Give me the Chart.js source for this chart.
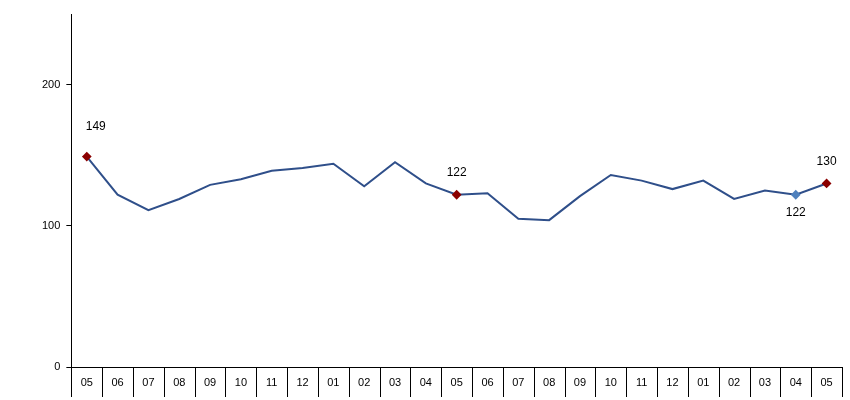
<!DOCTYPE html>
<html><head><script src="https://cdn.jsdelivr.net/npm/chart.js@4"></script>
<style>body{margin:0;background:#fff}#w{width:850px;height:400px}</style></head>
<body><div id="w"><canvas id="c"></canvas></div>
<script>
const categories=["05","06","07","08","09","10","11","12","01","02","03","04","05","06","07","08","09","10","11","12","01","02","03","04","05"];
const values=[149,122,111,119,129,133,139,141,144,128,145,130,122,123,105,104,121,136,132,126,132,119,125,122,130];
const yTicks=[0,100,200];
const labelled={0:"above",12:"above",23:"below",24:"above"};
const ptColor=values.map((v,i)=>i===23?"#4f81bd":"#8b0000");
const ptRadius=values.map((v,i)=>labelled[i]?3.5:0);
const labelPlugin={id:"lbl",afterDatasetsDraw(ch){const ctx=ch.ctx;const m=ch.getDatasetMeta(0);ctx.save();ctx.font="12px Arial";ctx.fillStyle="#000";ctx.textAlign="center";ctx.textBaseline="middle";
for(const k in labelled){const p=m.data[k];const i=+k;let y=labelled[k]==="above"?p.y-22:p.y+18;let x=p.x;if(i===0){x+=9;y-=8;}ctx.fillText(values[i],x,y);}
const xs=ch.scales.x,a=ch.chartArea;const step=xs.getPixelForValue(1)-xs.getPixelForValue(0);
ctx.strokeStyle="#000";ctx.lineWidth=1;ctx.font="11px Arial";
for(let i=0;i<=categories.length;i++){const x=Math.round(xs.getPixelForValue(i)-step/2)+0.5;ctx.beginPath();ctx.moveTo(x,a.bottom);ctx.lineTo(x,a.bottom+30);ctx.stroke();}
categories.forEach((c,i)=>ctx.fillText(c,xs.getPixelForValue(i),a.bottom+16));
ctx.restore();}};
new Chart(document.getElementById("c"),{type:"line",data:{labels:categories,datasets:[{data:values,borderColor:"#2f4f8a",borderWidth:2,tension:0,pointStyle:"rectRot",pointRadius:ptRadius,pointBackgroundColor:ptColor,pointBorderColor:ptColor}]},
options:{responsive:true,maintainAspectRatio:false,animation:false,layout:{padding:{top:14,right:8,left:36,bottom:25}},plugins:{legend:{display:false},tooltip:{enabled:false}},
scales:{x:{offset:true,grid:{display:false},border:{color:"#000"},ticks:{display:false}},
y:{min:0,max:250,afterBuildTicks(s){s.ticks=yTicks.map(v=>({value:v}));},grid:{drawOnChartArea:false,color:"#000",tickLength:5},border:{color:"#000"},ticks:{color:"#000",font:{family:"Arial",size:11},padding:6}}}},plugins:[labelPlugin]});
</script></body></html>
